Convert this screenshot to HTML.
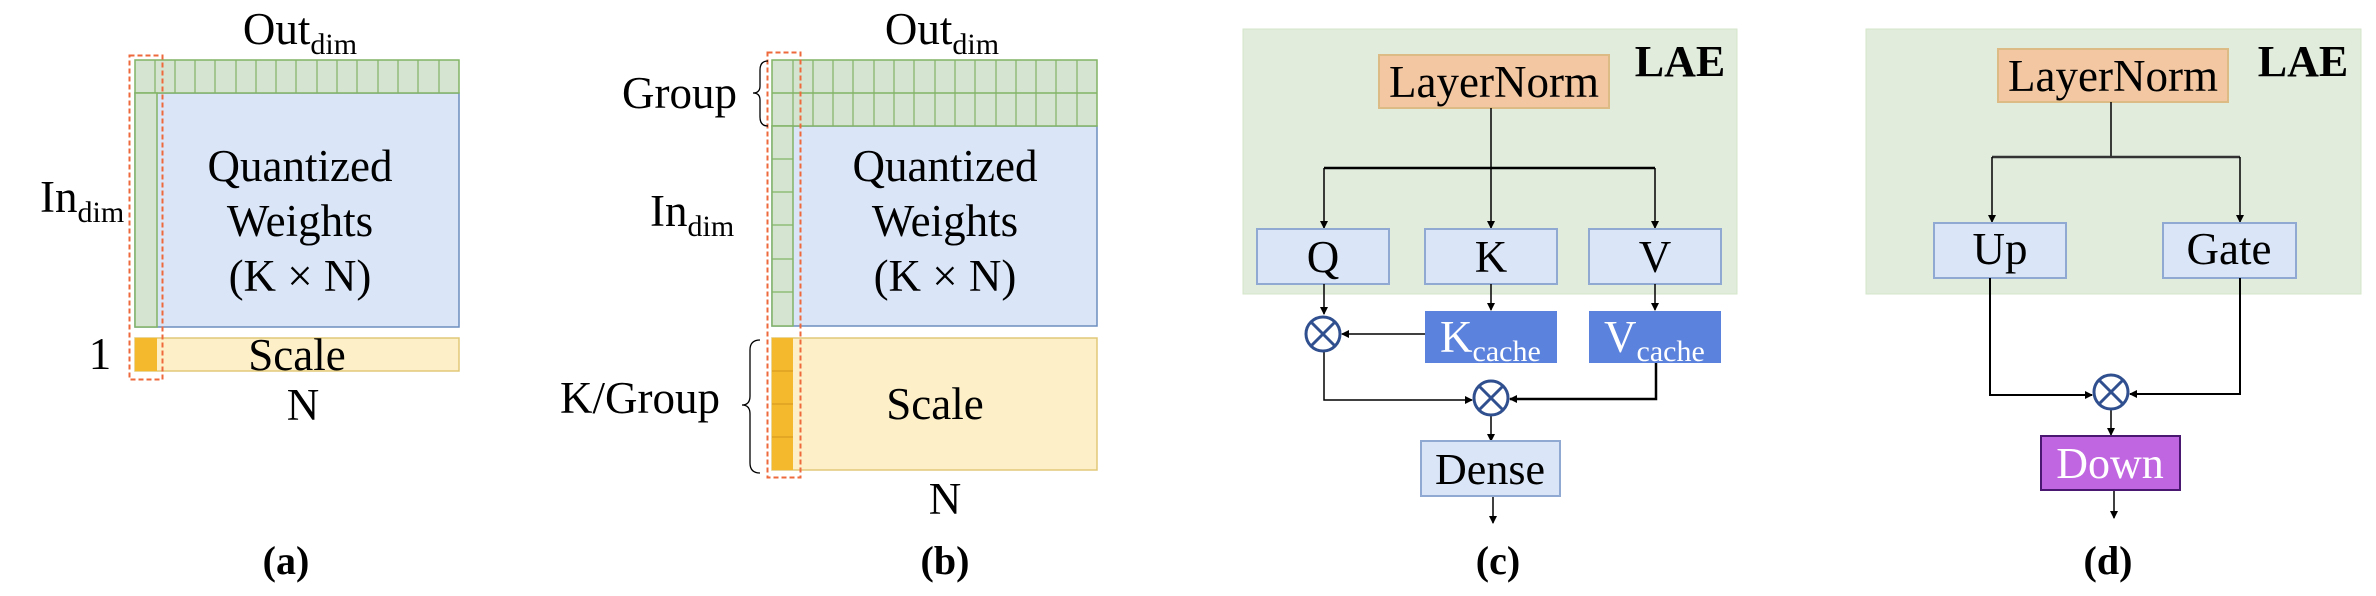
<!DOCTYPE html>
<html><head><meta charset="utf-8"><style>
html,body{margin:0;padding:0;background:#fff;}
svg{display:block;}
svg text, svg tspan{font-family:"Liberation Serif","Times New Roman","Noto Serif CJK SC","DejaVu Serif",serif;}
text{fill:#000;}
</style></head><body>
<svg width="2376" height="596" viewBox="0 0 2376 596" xmlns="http://www.w3.org/2000/svg">
<defs>
<marker id="ah" markerWidth="8" markerHeight="8" refX="7" refY="4" orient="auto" markerUnits="userSpaceOnUse">
<path d="M0,0 L8,4 L0,8 Z" fill="#000"/></marker>
</defs>

<!-- (a) -->
<rect x="135" y="93" width="324" height="234" fill="#dae6f8" stroke="#6c8ebf" stroke-width="1.5"/>
<rect x="135" y="60" width="324" height="33" fill="#d5e4d0" stroke="#82b366" stroke-width="1.5"/>
<rect x="135" y="93" width="22" height="234" fill="#d5e4d0" stroke="#82b366" stroke-width="1.5"/>
<g stroke="#82b366" stroke-width="1.2">
<line x1="155" y1="60" x2="155" y2="93"/><line x1="175" y1="60" x2="175" y2="93"/><line x1="195" y1="60" x2="195" y2="93"/><line x1="215" y1="60" x2="215" y2="93"/><line x1="236" y1="60" x2="236" y2="93"/><line x1="256" y1="60" x2="256" y2="93"/><line x1="276" y1="60" x2="276" y2="93"/><line x1="296" y1="60" x2="296" y2="93"/><line x1="317" y1="60" x2="317" y2="93"/><line x1="337" y1="60" x2="337" y2="93"/><line x1="357" y1="60" x2="357" y2="93"/><line x1="378" y1="60" x2="378" y2="93"/><line x1="398" y1="60" x2="398" y2="93"/><line x1="418" y1="60" x2="418" y2="93"/><line x1="439" y1="60" x2="439" y2="93"/>
</g>
<rect x="135" y="338" width="324" height="33" fill="#fdf0c8" stroke="#e0c878" stroke-width="1.5"/>
<rect x="135" y="338" width="22" height="33" fill="#f5b92e"/>
<rect x="129.5" y="55.5" width="33" height="324" fill="none" stroke="#ee6a3c" stroke-width="2" stroke-dasharray="5,3"/>
<text x="300" y="44" font-size="45" text-anchor="middle">Out<tspan font-size="30" dy="10">dim</tspan></text>
<text x="40" y="212" font-size="45">In<tspan font-size="30" dy="10">dim</tspan></text>
<text x="300" y="181" font-size="45" text-anchor="middle">Quantized</text>
<text x="300" y="236" font-size="45" text-anchor="middle">Weights</text>
<text x="300" y="291" font-size="45" text-anchor="middle">(K × N)</text>
<text x="100" y="369" font-size="45" text-anchor="middle">1</text>
<text x="297" y="370" font-size="45" text-anchor="middle">Scale</text>
<text x="303" y="420" font-size="45" text-anchor="middle">N</text>
<text x="286" y="574" font-size="40" font-weight="bold" text-anchor="middle">(a)</text>

<!-- (b) -->
<rect x="772" y="126" width="325" height="200" fill="#dae6f8" stroke="#6c8ebf" stroke-width="1.5"/>
<rect x="772" y="60" width="325" height="66" fill="#d5e4d0" stroke="#82b366" stroke-width="1.5"/>
<line x1="772" y1="93" x2="1097" y2="93" stroke="#82b366" stroke-width="1.5"/>
<rect x="772" y="126" width="21" height="200" fill="#d5e4d0" stroke="#82b366" stroke-width="1.5"/>
<g stroke="#82b366" stroke-width="1.2">
<line x1="793" y1="60" x2="793" y2="126"/><line x1="813" y1="60" x2="813" y2="126"/><line x1="833" y1="60" x2="833" y2="126"/><line x1="853" y1="60" x2="853" y2="126"/><line x1="874" y1="60" x2="874" y2="126"/><line x1="894" y1="60" x2="894" y2="126"/><line x1="914" y1="60" x2="914" y2="126"/><line x1="935" y1="60" x2="935" y2="126"/><line x1="955" y1="60" x2="955" y2="126"/><line x1="975" y1="60" x2="975" y2="126"/><line x1="996" y1="60" x2="996" y2="126"/><line x1="1016" y1="60" x2="1016" y2="126"/><line x1="1036" y1="60" x2="1036" y2="126"/><line x1="1056" y1="60" x2="1056" y2="126"/><line x1="1077" y1="60" x2="1077" y2="126"/>
<line x1="772" y1="159" x2="793" y2="159"/><line x1="772" y1="192" x2="793" y2="192"/><line x1="772" y1="225" x2="793" y2="225"/><line x1="772" y1="259" x2="793" y2="259"/><line x1="772" y1="292" x2="793" y2="292"/>
</g>
<rect x="772" y="338" width="325" height="132" fill="#fdf0c8" stroke="#e0c878" stroke-width="1.5"/>
<rect x="772" y="338" width="21" height="132" fill="#f5b92e"/>
<g stroke="#d99a20" stroke-width="1.2"><line x1="772" y1="371" x2="793" y2="371"/><line x1="772" y1="404" x2="793" y2="404"/><line x1="772" y1="437" x2="793" y2="437"/></g>
<rect x="767.5" y="52.5" width="33" height="425" fill="none" stroke="#ee6a3c" stroke-width="2" stroke-dasharray="5,3"/>
<text x="942" y="44" font-size="45" text-anchor="middle">Out<tspan font-size="30" dy="10">dim</tspan></text>
<text x="622" y="108" font-size="45">Group</text>
<path d="M768,61 Q760,61 760,70 L760,86 Q760,93 753,93 Q760,93 760,100 L760,117 Q760,126 768,126" fill="none" stroke="#000" stroke-width="1.3"/>
<text x="650" y="226" font-size="45">In<tspan font-size="30" dy="10">dim</tspan></text>
<text x="945" y="181" font-size="45" text-anchor="middle">Quantized</text>
<text x="945" y="236" font-size="45" text-anchor="middle">Weights</text>
<text x="945" y="291" font-size="45" text-anchor="middle">(K × N)</text>
<text x="560" y="413" font-size="45">K/Group</text>
<path d="M760,340 Q750,340 750,350 L750,396 Q750,405 742,405 Q750,405 750,414 L750,463 Q750,473 760,473" fill="none" stroke="#000" stroke-width="1.3"/>
<text x="935" y="419" font-size="45" text-anchor="middle">Scale</text>
<text x="945" y="514" font-size="45" text-anchor="middle">N</text>
<text x="945" y="574" font-size="40" font-weight="bold" text-anchor="middle">(b)</text>

<!-- (c) -->
<rect x="1243" y="29" width="494" height="265" fill="#e1ecdd" stroke="#d3e6c8" stroke-width="1"/>
<rect x="1379" y="55" width="230" height="53" fill="#f2c7a2" stroke="#dcbb85" stroke-width="2"/>
<text x="1494" y="97" font-size="45" text-anchor="middle">LayerNorm</text>
<text x="1680" y="76" font-size="44" font-weight="bold" text-anchor="middle">LAE</text>
<g stroke="#000" stroke-width="1.5" fill="none">
<line x1="1491" y1="108" x2="1491" y2="228" marker-end="url(#ah)"/>
<polyline points="1324,168 1324,228" marker-end="url(#ah)"/>
<polyline points="1655,168 1655,228" marker-end="url(#ah)"/>
<line x1="1324" y1="168" x2="1655" y2="168" stroke-width="2.5"/>
</g>
<rect x="1257" y="229" width="132" height="55" fill="#dae6f8" stroke="#8fa9d2" stroke-width="2"/>
<rect x="1425" y="229" width="132" height="55" fill="#dae6f8" stroke="#8fa9d2" stroke-width="2"/>
<rect x="1589" y="229" width="132" height="55" fill="#dae6f8" stroke="#8fa9d2" stroke-width="2"/>
<text x="1323" y="272" font-size="45" text-anchor="middle">Q</text>
<text x="1491" y="272" font-size="45" text-anchor="middle">K</text>
<text x="1655" y="272" font-size="45" text-anchor="middle">V</text>
<rect x="1425" y="311" width="132" height="52" fill="#5b82dc"/>
<rect x="1589" y="311" width="132" height="52" fill="#5b82dc"/>
<text x="1440" y="352" font-size="45" style="fill:#fff">K<tspan font-size="30" dy="9">cache</tspan></text>
<text x="1604" y="352" font-size="45" style="fill:#fff">V<tspan font-size="30" dy="9">cache</tspan></text>
<g stroke="#000" stroke-width="1.5" fill="none">
<line x1="1324" y1="284" x2="1324" y2="314" marker-end="url(#ah)"/>
<line x1="1491" y1="284" x2="1491" y2="310" marker-end="url(#ah)"/>
<line x1="1655" y1="284" x2="1655" y2="310" marker-end="url(#ah)"/>
<line x1="1425" y1="334" x2="1342" y2="334" marker-end="url(#ah)"/>
<polyline points="1324,352 1324,400 1472,400" marker-end="url(#ah)"/>
<polyline points="1656,363 1656,399 1510,399" stroke-width="2.5" marker-end="url(#ah)"/>
<line x1="1491" y1="416" x2="1491" y2="441" marker-end="url(#ah)"/>
<line x1="1493" y1="496" x2="1493" y2="523" marker-end="url(#ah)"/>
</g>
<g stroke="#2f4f8f" stroke-width="3" fill="#fff">
<circle cx="1323" cy="334" r="17"/>
<line x1="1311" y1="322" x2="1335" y2="346"/><line x1="1335" y1="322" x2="1311" y2="346"/>
<circle cx="1491" cy="398" r="17"/>
<line x1="1479" y1="386" x2="1503" y2="410"/><line x1="1503" y1="386" x2="1479" y2="410"/>
</g>
<rect x="1421" y="441" width="139" height="55" fill="#dae6f8" stroke="#8fa9d2" stroke-width="2"/>
<text x="1490" y="484" font-size="44" text-anchor="middle">Dense</text>
<text x="1498" y="574" font-size="40" font-weight="bold" text-anchor="middle">(c)</text>

<!-- (d) -->
<rect x="1866" y="29" width="495" height="265" fill="#e1ecdd" stroke="#d3e6c8" stroke-width="1"/>
<rect x="1998" y="49" width="230" height="53" fill="#f2c7a2" stroke="#dcbb85" stroke-width="2"/>
<text x="2113" y="91" font-size="45" text-anchor="middle">LayerNorm</text>
<text x="2303" y="76" font-size="44" font-weight="bold" text-anchor="middle">LAE</text>
<g stroke="#000" stroke-width="1.5" fill="none">
<line x1="2111" y1="102" x2="2111" y2="157"/>
<line x1="1992" y1="157" x2="2240" y2="157" stroke-width="2.5" stroke="#333"/>
<line x1="1992" y1="157" x2="1992" y2="222" marker-end="url(#ah)"/>
<line x1="2240" y1="157" x2="2240" y2="222" marker-end="url(#ah)"/>
</g>
<rect x="1934" y="223" width="132" height="55" fill="#dae6f8" stroke="#8fa9d2" stroke-width="2"/>
<rect x="2163" y="223" width="133" height="55" fill="#dae6f8" stroke="#8fa9d2" stroke-width="2"/>
<text x="2000" y="264" font-size="45" text-anchor="middle">Up</text>
<text x="2229" y="264" font-size="45" text-anchor="middle">Gate</text>
<g stroke="#000" stroke-width="1.5" fill="none">
<polyline points="1990,278 1990,395 2092,395" stroke-width="2" marker-end="url(#ah)"/>
<polyline points="2240,278 2240,394 2130,394" stroke-width="2" marker-end="url(#ah)"/>
<line x1="2111" y1="410" x2="2111" y2="435" marker-end="url(#ah)"/>
<line x1="2114" y1="490" x2="2114" y2="518" marker-end="url(#ah)"/>
</g>
<g stroke="#2f4f8f" stroke-width="3" fill="#fff">
<circle cx="2111" cy="392" r="17"/>
<line x1="2099" y1="380" x2="2123" y2="404"/><line x1="2123" y1="380" x2="2099" y2="404"/>
</g>
<rect x="2041" y="436" width="139" height="54" fill="#c066e0" stroke="#4a1870" stroke-width="2"/>
<text x="2110" y="478" font-size="44" text-anchor="middle" style="fill:#fff">Down</text>
<text x="2108" y="574" font-size="40" font-weight="bold" text-anchor="middle">(d)</text>
</svg>
</body></html>
